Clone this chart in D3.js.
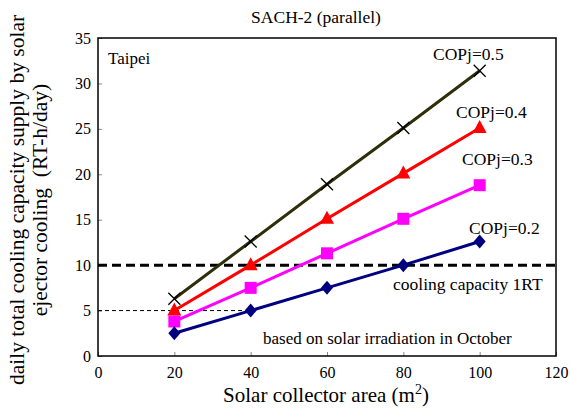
<!DOCTYPE html>
<html>
<head>
<meta charset="utf-8">
<script src="https://d3js.org/d3.v7.min.js"></script>
<style>
  body { margin: 0; background: #fff; }
  text { font-family: "Liberation Serif", "Times New Roman", serif; }
</style>
</head>
<body>
<div id="chart"></div>
<script>
// collector areas (m2)
var areas = [20, 40, 60, 80, 100];
// daily cooling capacity (RT-h/day) for each COPj
var cop05 = [6.3, 12.6, 18.9, 25.1, 31.4];
var cop04 = [5.0, 10.0, 15.1, 20.1, 25.1];
var cop03 = [3.8, 7.5, 11.3, 15.1, 18.8];
var cop02 = [2.5, 5.0, 7.5, 10.0, 12.6];
var xTicks = [0, 20, 40, 60, 80, 100, 120];
var yTicks = [0, 5, 10, 15, 20, 25, 30, 35];
var capacityLine = 10;

var svgWidth = 570, svgHeight = 410;
var margin = { top: 38, right: 14, bottom: 54, left: 98 };
var width = svgWidth - margin.left - margin.right;
var height = svgHeight - margin.top - margin.bottom;

var svg = d3.select("#chart").append("svg")
  .attr("width", svgWidth)
  .attr("height", svgHeight);

var chartGroup = svg.append("g")
  .attr("transform", `translate(${margin.left}, ${margin.top})`);

var x = d3.scaleLinear().domain([0, 120]).range([0, width]);
var y = d3.scaleLinear().domain([0, 35]).range([height, 0]);

// axes, ticks pointing inward
var xAxis = d3.axisBottom(x).tickValues(xTicks).tickSizeInner(-4).tickSizeOuter(0).tickPadding(8);
var yAxis = d3.axisLeft(y).tickValues(yTicks).tickSizeInner(-4).tickSizeOuter(0).tickPadding(8);

var gx = chartGroup.append("g")
  .attr("transform", `translate(0, ${height})`)
  .call(xAxis);
var gy = chartGroup.append("g").call(yAxis);

[gx, gy].forEach(function(g) {
  g.select(".domain").remove();
  g.selectAll(".tick line").attr("stroke", "#888");
  g.selectAll(".tick text")
    .attr("font-size", "16px")
    .attr("fill", "#000")
    .style("font-family", "Liberation Serif, serif");
});
gx.selectAll(".tick text").attr("dy", "0.9em");
gy.selectAll(".tick text").attr("dx", "1px");

// frame
chartGroup.append("rect")
  .attr("x", 0).attr("y", 0)
  .attr("width", width).attr("height", height)
  .attr("fill", "none")
  .attr("stroke", "#000")
  .attr("stroke-width", 1.5);

// reference lines
chartGroup.append("line")
  .attr("x1", x(0)).attr("x2", x(120))
  .attr("y1", y(capacityLine)).attr("y2", y(capacityLine))
  .attr("stroke", "#000")
  .attr("stroke-width", 3)
  .attr("stroke-dasharray", "9,5");

chartGroup.append("line")
  .attr("x1", x(0)).attr("x2", x(areas[1]))
  .attr("y1", y(cop02[1])).attr("y2", y(cop02[1]))
  .attr("stroke", "#000")
  .attr("stroke-width", 1)
  .attr("stroke-dasharray", "4,3");

var line = d3.line()
  .x(d => x(d[0]))
  .y(d => y(d[1]));

var series = [
  { vals: cop05, color: "#2e2e0a", marker: "cross" },
  { vals: cop04, color: "#ff0000", marker: "triangle" },
  { vals: cop03, color: "#ff00ff", marker: "square" },
  { vals: cop02, color: "#000080", marker: "diamond" }
];

series.forEach(function(s) {
  var pts = areas.map((a, i) => [a, s.vals[i]]);
  chartGroup.append("path")
    .datum(pts)
    .attr("d", line)
    .attr("fill", "none")
    .attr("stroke", s.color)
    .attr("stroke-width", 3);

  var g = chartGroup.selectAll(null)
    .data(pts)
    .enter()
    .append("g")
    .attr("transform", d => `translate(${x(d[0])}, ${y(d[1])})`);

  if (s.marker === "cross") {
    g.append("path")
      .attr("d", "M-6,-6L6,6M-6,6L6,-6")
      .attr("stroke", "#000")
      .attr("stroke-width", 1.3);
  } else if (s.marker === "triangle") {
    g.append("path").attr("d", "M0,-8L7,5L-7,5Z").attr("fill", s.color);
  } else if (s.marker === "square") {
    g.append("rect").attr("x", -6).attr("y", -6).attr("width", 12).attr("height", 12).attr("fill", s.color);
  } else {
    g.append("path").attr("d", "M0,-7L6,0L0,7L-6,0Z").attr("fill", s.color);
  }
});

// annotations
function note(txt, px, py, size, anchor) {
  svg.append("text")
    .attr("x", px).attr("y", py)
    .attr("font-size", size)
    .attr("text-anchor", anchor || "start")
    .attr("fill", "#000")
    .text(txt);
}

note("Taipei", 108, 64, "17px");
note("COPj=0.5", 433, 60, "17.5px");
note("COPj=0.4", 456, 118, "17.5px");
note("COPj=0.3", 462, 165, "17.5px");
note("COPj=0.2", 469, 234, "17.5px");
note("cooling capacity 1RT", 393, 290, "17.5px");
note("based on solar irradiation in October", 263, 344, "17px");

// title
note("SACH-2 (parallel)", 316, 23, "17.5px", "middle");

// x label with superscript
var xl = svg.append("text")
  .attr("x", 326).attr("y", 402)
  .attr("font-size", "21px")
  .attr("text-anchor", "middle")
  .attr("fill", "#000");
xl.append("tspan").text("Solar collector area (m");
xl.append("tspan").attr("font-size", "14px").attr("dy", "-8").text("2");
xl.append("tspan").attr("dy", "8").text(")");

// y label, two lines
var yl = svg.append("text")
  .attr("transform", "translate(0, 200) rotate(-90)")
  .attr("font-size", "21.5px")
  .attr("text-anchor", "middle")
  .attr("fill", "#000");
yl.append("tspan").attr("x", 0).attr("y", 24).text("daily total cooling capacity supply by solar");
yl.append("tspan").attr("x", 0).attr("y", 47).attr("xml:space", "preserve").text("ejector cooling  (RT-h/day)");
</script>
</body>
</html>
